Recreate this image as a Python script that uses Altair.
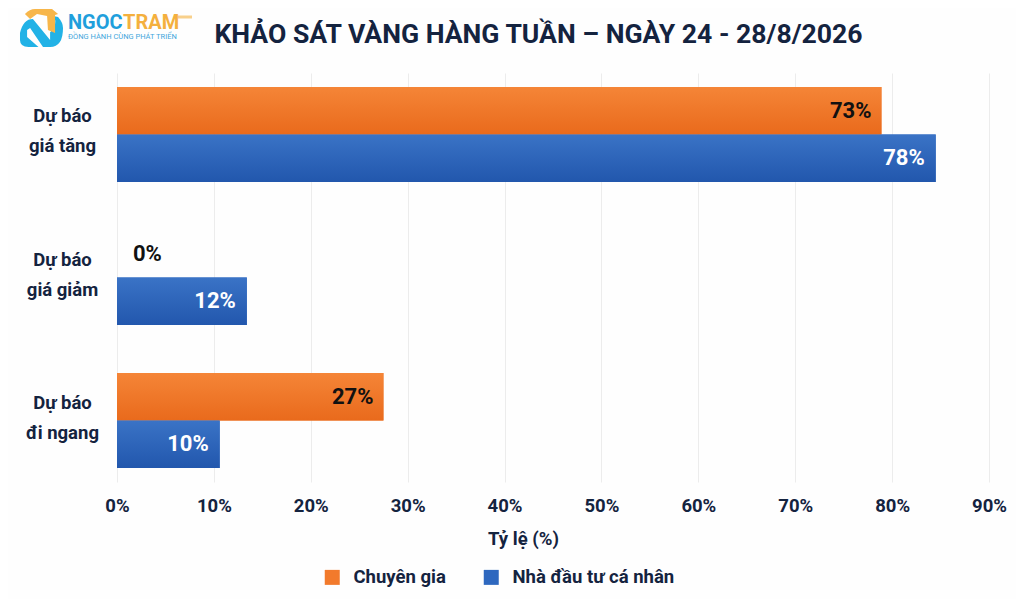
import altair as alt
import pandas as pd

categories = ["Dự báo|giá tăng", "Dự báo|giá giảm", "Dự báo|đi ngang"]
series_names = ["Chuyên gia", "Nhà đầu tư cá nhân"]
expert_values = [78.9, 0, 27.5]
investor_values = [84.5, 13.4, 10.6]
expert_labels = ["73%", "0%", "27%"]
investor_labels = ["78%", "12%", "10%"]
x_ticks = [0, 10, 20, 30, 40, 50, 60, 70, 80, 90]

ORANGE = "#f27a2c"
BLUE = "#2e68bf"
NAVY = "#14233f"
FONT = "Roboto"

# logo outlines, unit square
LOGO_CYAN = ("M -1 0.23 Q -0.85 -0.42 -0.4 -0.42 L 0.4 0.56 L 0.4 0.2 Q 0.75 -0.05 0.6 -0.55 L 0.77 -0.51 "
             "Q 1 -0.25 1 0 Q 1 0.88 0.4 0.88 L 0.07 0.88 L -0.53 0 L -0.67 0.09 L -0.67 0.42 L -0.14 0.88 "
             "L -0.6 0.88 Q -1 0.88 -1 0.56 Z")
LOGO_ORANGE = ("M -0.77 -0.65 Q -0.55 -0.88 -0.3 -0.88 L 0.49 -0.88 L 0.77 -0.65 L 0.63 -0.6 L 0.63 0.23 L 0.3 0.09 "
               "L 0.26 -0.56 L -0.21 -0.65 L -0.53 -0.42 Z")

rows = []
for i, cat in enumerate(categories):
    rows.append({"cat": cat, "series": series_names[0], "value": expert_values[i], "label": expert_labels[i]})
    rows.append({"cat": cat, "series": series_names[1], "value": investor_values[i], "label": investor_labels[i]})
df = pd.DataFrame(rows)


def gradient(top, bottom):
    return alt.LinearGradient(gradient="linear",
                              stops=[alt.GradientStop(offset=0, color=top), alt.GradientStop(offset=1, color=bottom)],
                              x1=0, x2=0, y1=0, y2=1)


x = alt.X("value:Q", scale=alt.Scale(domain=[0, 90], nice=False), axis=alt.Axis(
    values=x_ticks, labelExpr="datum.value + '%'", title="Tỷ lệ (%)", domain=False, ticks=False, labelFlush=False,
    grid=True, gridColor="#ececec", labelFont=FONT, labelFontWeight="bold", labelFontSize=18.5, labelColor=NAVY,
    labelPadding=14, titleFont=FONT, titleFontWeight="bold", titleFontSize=18.5, titleColor=NAVY, titlePadding=15,
    titleX=406))
y = alt.Y("cat:N", sort=categories, scale=alt.Scale(paddingInner=0.336, paddingOuter=0.098), axis=alt.Axis(
    title=None, domain=False, ticks=False, labelExpr="split(datum.label, '|')", labelAlign="center",
    labelPadding=55, labelOffset=-18, labelFont=FONT, labelFontWeight="bold", labelFontSize=18.5, labelColor=NAVY,
    labelLineHeight=30))
y_off = alt.YOffset("series:N", sort=series_names, scale=alt.Scale(paddingInner=0, paddingOuter=0))

base = alt.Chart(df).encode(x=x, y=y, yOffset=y_off)
bars = base.mark_bar(cornerRadius=0).encode(
    color=alt.Color("series:N", sort=series_names, scale=alt.Scale(domain=series_names, range=[ORANGE, BLUE]),
                    legend=alt.Legend(title=None, orient="none", direction="horizontal", legendX=206, legendY=495,
                                      symbolType="square", symbolSize=225, symbolStrokeWidth=0, symbolOpacity=1,
                                      labelFont=FONT, labelFontWeight="bold", labelFontSize=18.5, labelColor=NAVY,
                                      labelLimit=300, columnPadding=36, labelOffset=12)))
expert_shade = base.transform_filter(alt.datum.series == series_names[0]).mark_bar(
    color=gradient("#f58537", "#e96a1c"))
investor_shade = base.transform_filter(alt.datum.series == series_names[1]).mark_bar(
    color=gradient("#3a73c6", "#2257ad"))

text = dict(font=FONT, fontWeight="bold", fontSize=22, baseline="middle")
expert_text = base.transform_filter((alt.datum.series == series_names[0]) & (alt.datum.value > 0)).mark_text(
    align="right", dx=-10, color="#111111", **text).encode(text="label:N")
zero_text = base.transform_filter((alt.datum.series == series_names[0]) & (alt.datum.value == 0)).mark_text(
    align="left", dx=16, color="#111111", **text).encode(text="label:N")
investor_text = base.transform_filter(alt.datum.series == series_names[1]).mark_text(
    align="right", dx=-11, color="#ffffff", **text).encode(text="label:N")

one = pd.DataFrame({"a": [0]})
title = alt.Chart(one).mark_text(font=FONT, fontWeight="bold", fontSize=26.6, align="center", color=NAVY).encode(
    x=alt.value(421.5), y=alt.value(-38), text=alt.value("KHẢO SÁT VÀNG HÀNG TUẦN – NGÀY 24 - 28/8/2026"))
logo_cyan = alt.Chart(one).mark_point(shape=LOGO_CYAN, filled=True, size=1850, opacity=1, color="#22b2e6", strokeWidth=0).encode(
    x=alt.value(-75.5), y=alt.value(-45))
logo_orange = alt.Chart(one).mark_point(shape=LOGO_ORANGE, filled=True, size=1850, opacity=1, color="#f7b64a", strokeWidth=0).encode(
    x=alt.value(-75.5), y=alt.value(-45))
logo_main = alt.Chart(one).mark_text(font=FONT, fontWeight="bold", fontSize=20, align="left", color="#1f9fdc").encode(
    x=alt.value(-49), y=alt.value(-50), text=alt.value("NGOC"))
logo_tram = alt.Chart(one).mark_text(font=FONT, fontWeight="bold", fontSize=20, align="left", color="#f4b03e").encode(
    x=alt.value(6), y=alt.value(-50), text=alt.value("TRAM"))
logo_sub = alt.Chart(one).mark_text(font=FONT, fontSize=7.5, align="left", color="#3ea6dc").encode(
    x=alt.value(-49), y=alt.value(-36), text=alt.value("ĐỒNG HÀNH CÙNG PHÁT TRIỂN"))
logo_tag = alt.Chart(one).mark_rule(color="#f4b03e", strokeWidth=3, opacity=0.6).encode(
    x=alt.value(61), x2=alt.value(75), y=alt.value(-56))

chart = alt.layer(bars, expert_shade, investor_shade, expert_text, zero_text, investor_text,
                  title, logo_cyan, logo_orange, logo_main, logo_tram, logo_sub, logo_tag).properties(
    width=872,
    height=409,
    autosize=alt.AutoSizeParams(type="none"),
    padding={"left": 109, "top": 65, "right": 27, "bottom": 117},
    background="#fefefe",
).configure_view(stroke=None)

chart.save("out.html", embed_options={"renderer": "svg", "actions": False})
